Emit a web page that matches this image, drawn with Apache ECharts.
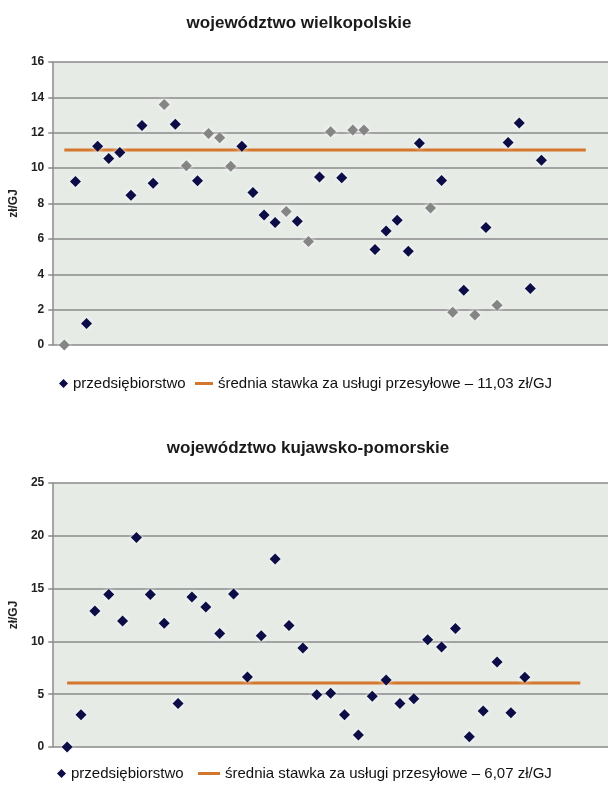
<!DOCTYPE html>
<html><head><meta charset="utf-8">
<script src="https://cdn.jsdelivr.net/npm/echarts@6/dist/echarts.min.js"></script>
<style>html,body{margin:0;padding:0;background:#fff}#c{width:612px;height:791px}</style>
</head><body><div id="c"></div>
<script>
// ---- data: województwo wielkopolskie ----
const wlkTitle = 'województwo wielkopolskie';
const wlkValues = [0, 9.25, 1.22, 11.23, 10.54, 10.88, 8.47, 12.41, 9.15, 13.6, 12.48, 10.13, 9.28, 11.96, 11.72, 10.11,
  11.23, 8.62, 7.35, 6.93, 7.55, 7.0, 5.85, 9.5, 12.05, 9.45, 12.15, 12.15, 5.4, 6.45, 7.05, 5.3, 11.4, 7.75, 9.3,
  1.85, 3.1, 1.7, 6.65, 2.25, 11.45, 12.55, 3.2, 10.45];
const wlkFaded = [0, 9, 11, 13, 14, 15, 20, 22, 24, 26, 27, 33, 35, 37, 39];
const wlkMean = 11.03;
const wlkMeanSpan = [1, 48];
const wlkXRange = [0, 50];
const wlkYTicks = [0, 16, 2];
const wlkMeanLabel = 'średnia stawka za usługi przesyłowe – 11,03 zł/GJ';

// ---- data: województwo kujawsko-pomorskie ----
const kpTitle = 'województwo kujawsko-pomorskie';
const kpValues = [0, 3.06, 12.88, 14.44, 11.94, 19.84, 14.44, 11.72, 4.11, 14.2, 13.25, 10.75, 14.5, 6.63, 10.53,
  17.8, 11.5, 9.38, 4.94, 5.09, 3.06, 1.13, 4.8, 6.34, 4.13, 4.58, 10.16, 9.46, 11.22, 0.96, 3.41, 8.04, 3.25, 6.6];
const kpMean = 6.07;
const kpMeanSpan = [1, 38];
const kpXRange = [0, 40];
const kpYTicks = [0, 25, 5];
const kpMeanLabel = 'średnia stawka za usługi przesyłowe – 6,07 zł/GJ';

const firmLabel = 'przedsiębiorstwo';
const unitLabel = 'zł/GJ';

// ---- styling ----
const NAVY = '#0c0c46', FADED = '#858585', ORANGE = '#d4772c', GRIDC = '#8a8a8a', BG = '#e6ebe6';
const FONT = 'Liberation Sans, Arial, sans-serif';

function pts(vals, faded) {
  return vals.map((v, i) => ({
    value: [i + 1, v],
    itemStyle: { color: faded && faded.includes(i) ? FADED : NAVY }
  }));
}
function yAxis(idx, t) {
  return {
    type: 'value', gridIndex: idx, min: t[0], max: t[1], interval: t[2],
    name: unitLabel, nameLocation: 'middle', nameGap: 29, nameRotate: 90,
    nameTextStyle: { fontFamily: FONT, fontWeight: 'bold', fontSize: 12, color: '#222' },
    axisLine: { show: true, lineStyle: { color: GRIDC, width: 1.5 } },
    axisTick: { show: true, length: 5, lineStyle: { color: GRIDC, width: 1.5 } },
    axisLabel: { fontFamily: FONT, fontWeight: 'bold', fontSize: 12, color: '#222', margin: 9 },
    splitLine: { show: true, lineStyle: { color: GRIDC, width: 1.5 } }
  };
}
function xAxis(idx, r) {
  return { type: 'value', gridIndex: idx, min: r[0], max: r[1], show: false, splitLine: { show: false } };
}
function legend(x, y, name, icon, w, h, fs) {
  return {
    left: x, top: y, data: [{ name: name, icon: icon }], itemWidth: w, itemHeight: h, itemGap: 4,
    selectedMode: false,
    textStyle: { fontFamily: FONT, fontSize: fs, color: '#111', padding: [0, 0, 0, 0] }
  };
}

const chart = echarts.init(document.getElementById('c'), null, { renderer: 'canvas' });
chart.setOption({
  animation: false,
  backgroundColor: '#fff',
  title: [
    { text: wlkTitle, left: 294, textAlign: 'center', top: 10, textStyle: { fontFamily: FONT, fontWeight: 'bold', fontSize: 17, color: '#1a1a1a' } },
    { text: kpTitle, left: 303, textAlign: 'center', top: 435, textStyle: { fontFamily: FONT, fontWeight: 'bold', fontSize: 17, color: '#1a1a1a' } }
  ],
  grid: [
    { left: 53, top: 62, right: 4, height: 283, backgroundColor: BG, show: true, borderWidth: 0 },
    { left: 53, top: 483, right: 4, height: 264, backgroundColor: BG, show: true, borderWidth: 0 }
  ],
  xAxis: [xAxis(0, wlkXRange), xAxis(1, kpXRange)],
  yAxis: [yAxis(0, wlkYTicks), yAxis(1, kpYTicks)],
  legend: [
    legend(54, 371, firmLabel, 'diamond', 9, 9, 15),
    legend(190, 371, wlkMeanLabel, 'rect', 18, 3, 15),
    legend(52, 761, firmLabel, 'diamond', 9, 9, 15),
    legend(193, 761, kpMeanLabel, 'rect', 22, 3, 15)
  ],
  series: [
    { type: 'line', name: wlkMeanLabel, xAxisIndex: 0, yAxisIndex: 0, showSymbol: false, symbol: 'none',
      data: wlkMeanSpan.map(x => [x, wlkMean]), lineStyle: { color: ORANGE, width: 3 }, itemStyle: { color: ORANGE }, z: 2 },
    { type: 'scatter', name: firmLabel, xAxisIndex: 0, yAxisIndex: 0, symbol: 'diamond', symbolSize: 11,
      data: pts(wlkValues, wlkFaded), itemStyle: { color: NAVY, opacity: 1, shadowBlur: 5, shadowColor: 'rgba(255,255,255,0.9)' }, z: 3 },
    { type: 'line', name: kpMeanLabel, xAxisIndex: 1, yAxisIndex: 1, showSymbol: false, symbol: 'none',
      data: kpMeanSpan.map(x => [x, kpMean]), lineStyle: { color: ORANGE, width: 3 }, itemStyle: { color: ORANGE }, z: 2 },
    { type: 'scatter', name: firmLabel, xAxisIndex: 1, yAxisIndex: 1, symbol: 'diamond', symbolSize: 11,
      data: pts(kpValues, null), itemStyle: { color: NAVY, opacity: 1, shadowBlur: 5, shadowColor: 'rgba(255,255,255,0.9)' }, z: 3 }
  ]
});
</script></body></html>
